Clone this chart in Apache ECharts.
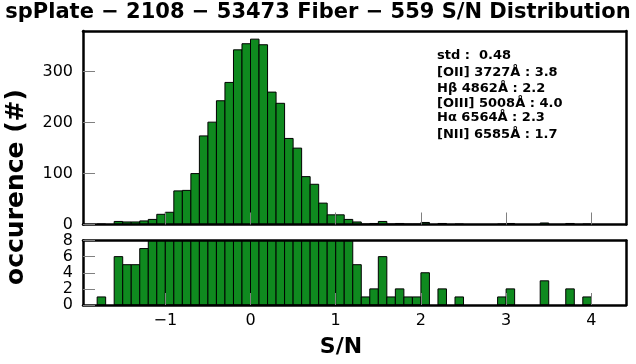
<!DOCTYPE html>
<html>
<head>
<meta charset="utf-8">
<script src="https://cdn.jsdelivr.net/npm/echarts@6/dist/echarts.min.js"></script>
<style>html,body{margin:0;padding:0;background:#fff}#c{width:636px;height:364px}</style>
</head>
<body>
<div id="c"></div>
<script>
// ---- data ----
const binEdges = [-1.8,-1.7,-1.6,-1.5,-1.4,-1.3,-1.2,-1.1,-1.0,-0.9,-0.8,-0.7,-0.6,-0.5,-0.4,-0.3,-0.2,-0.1,
  0.0,0.1,0.2,0.3,0.4,0.5,0.6,0.7,0.8,0.9,1.0,1.1,1.2,1.3,1.4,1.5,1.6,1.7,1.8,1.9,2.0,2.1,2.2,2.3,2.4,2.5,
  2.6,2.7,2.8,2.9,3.0,3.1,3.2,3.3,3.4,3.5,3.6,3.7,3.8,3.9,4.0];
const counts = [1,0,6,5,5,7,10,20,24,66,67,100,174,201,243,279,343,355,
  364,353,260,238,169,150,94,79,42,19,19,10,5,1,2,6,1,2,1,1,4,0,2,0,1,0,
  0,0,0,1,2,0,0,0,3,0,0,2,0,1];
const xTicks = [-1,0,1,2,3,4];
const yTicksTop = [0,100,200,300];
const yTicksBottom = [0,2,4,6,8];
const titleText = 'spPlate − 2108 − 53473 Fiber − 559 S/N Distribution';
const xName = 'S/N';
const yName = 'occurence (#)';
const statLines = ['std :  0.48','[OII] 3727Å : 3.8','Hβ 4862Å : 2.2','[OIII] 5008Å : 4.0','Hα 6564Å : 2.3','[NII] 6585Å : 1.7'];

// ---- build ----
const histData = counts.map((c,i)=>[binEdges[i], binEdges[i+1], c]);
const X_MIN = -1.966, X_MAX = 4.407;
const FONT = 'DejaVu Sans';
const GREEN = '#0f8a1f';
const TICK = '#808080';

function renderBar(params, api){
  const v = api.value(2);
  if (!v) return null;
  const p0 = api.coord([api.value(0), 0]);
  const p1 = api.coord([api.value(1), v]);
  const r = echarts.graphic.clipRectByRect(
    {x:p0[0], y:p1[1], width:p1[0]-p0[0], height:p0[1]-p1[1]}, params.coordSys);
  if (!r) return null;
  return {type:'rect', shape:r, style:{fill:GREEN, stroke:'#000', lineWidth:1}};
}
const fmtNum = v => (v < 0 ? '−' + Math.abs(v) : String(v));

function mainX(gi, showLabels){
  return {type:'value', gridIndex:gi, min:X_MIN, max:X_MAX, position:'bottom', z:10,
    axisLine:{show:true, onZero:false, lineStyle:{color:'#000', width:2.5}},
    axisTick:{show:true, inside:true, length:12, customValues:xTicks, lineStyle:{color:TICK, width:1}},
    axisLabel:{show:showLabels, customValues:xTicks, formatter:fmtNum, margin:8,
      fontFamily:FONT, fontSize:16, color:'#000'},
    splitLine:{show:false}};
}
function frameX(gi){
  return {type:'value', gridIndex:gi, min:X_MIN, max:X_MAX, position:'top', z:10,
    axisLine:{show:true, onZero:false, lineStyle:{color:'#000', width:2.5}},
    axisTick:{show:false}, axisLabel:{show:false}, splitLine:{show:false}};
}
function mainY(gi, max, ticks){
  return {type:'value', gridIndex:gi, min:0, max:max, position:'left', z:10,
    axisLine:{show:true, onZero:false, lineStyle:{color:'#000', width:2.5}},
    axisTick:{show:true, inside:true, length:12, customValues:ticks, lineStyle:{color:TICK, width:1}},
    axisLabel:{show:true, customValues:ticks, margin:10, fontFamily:FONT, fontSize:16, color:'#000'},
    splitLine:{show:false}};
}
function frameY(gi, max){
  return {type:'value', gridIndex:gi, min:0, max:max, position:'right', z:10,
    axisLine:{show:true, onZero:false, lineStyle:{color:'#000', width:2.5}},
    axisTick:{show:false}, axisLabel:{show:false}, splitLine:{show:false}};
}

const graphics = [
  {type:'text', left:'center', top:2, z:20,
    style:{text:titleText, font:'bold 21px "DejaVu Sans"', fill:'#000'}},
  {type:'text', x:16.5, y:187, rotation:Math.PI/2, z:20,
    style:{text:yName, font:'bold 25px "DejaVu Sans"', fill:'#000', align:'center', verticalAlign:'middle'}},
  {type:'text', x:341, y:347, z:20,
    style:{text:xName, font:'bold 22px "DejaVu Sans"', fill:'#000', align:'center', verticalAlign:'middle'}}
];
const statY = [56, 72.7, 88.7, 103.3, 117.7, 135];
statLines.forEach((t,i)=>{
  graphics.push({type:'text', x:437, y:statY[i], z:20,
    style:{text:t, font:'bold 13px "DejaVu Sans"', fill:'#000', align:'left', verticalAlign:'middle'}});
});

const chart = echarts.init(document.getElementById('c'), null, {renderer:'canvas'});
chart.setOption({
  animation:false,
  backgroundColor:'#fff',
  grid:[
    {left:83, right:10, top:31, height:193.5},
    {left:83, right:10, top:240.5, height:64.5}
  ],
  xAxis:[mainX(0,false), mainX(1,true), frameX(0), frameX(1)],
  yAxis:[mainY(0,380,yTicksTop), mainY(1,8,yTicksBottom), frameY(0,380), frameY(1,8)],
  series:[
    {type:'custom', xAxisIndex:0, yAxisIndex:0, renderItem:renderBar, data:histData, z:2},
    {type:'custom', xAxisIndex:1, yAxisIndex:1, renderItem:renderBar, data:histData, z:2}
  ],
  graphic:graphics
});
</script>
</body>
</html>
